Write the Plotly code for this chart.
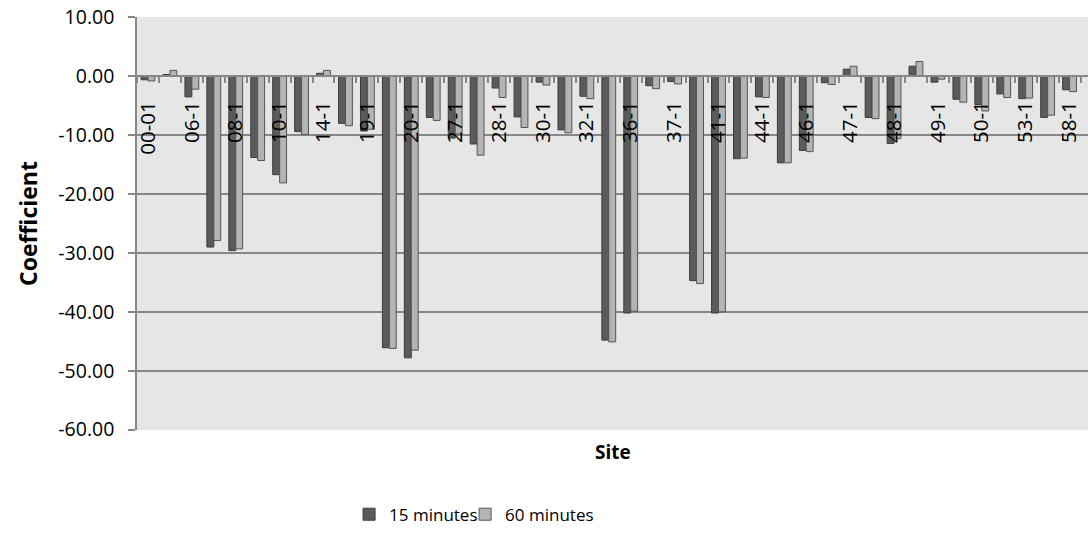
import plotly.graph_objects as go

site_labels = ["00-01", "06-1", "08-1", "10-1", "14-1", "19-1", "20-1", "27-1",
               "28-1", "30-1", "32-1", "36-1", "37-1", "41-1", "44-1", "46-1",
               "47-1", "48-1", "49-1", "50-1", "53-1", "58-1"]

min15 = [-0.6, 0.3, -3.5, -29.0, -29.6, -13.8, -16.7, -9.4, 0.5, -8.0,
         -9.3, -46.1, -47.8, -7.0, -10.5, -11.5, -2.0, -6.9, -1.0, -9.1,
         -3.4, -44.8, -40.2, -1.6, -0.9, -34.7, -40.2, -14.0, -3.5, -14.7,
         -12.6, -1.1, 1.2, -7.0, -11.4, 1.7, -1.0, -3.9, -4.8, -3.0,
         -3.8, -7.0, -2.3]

min60 = [-0.8, 1.0, -2.2, -27.9, -29.3, -14.3, -18.1, -9.9, 1.0, -8.4,
         -9.0, -46.2, -46.5, -7.5, -9.8, -13.4, -3.6, -8.7, -1.5, -9.6,
         -3.8, -45.1, -39.9, -2.1, -1.3, -35.2, -40.0, -13.9, -3.6, -14.7,
         -12.8, -1.4, 1.7, -7.2, -10.6, 2.5, -0.5, -4.4, -5.9, -3.6,
         -3.7, -6.6, -2.6]

series_names = ["15 minutes", "60 minutes"]
y_ticks = [10, 0, -10, -20, -30, -40, -50, -60]

n = len(min15)
xs = list(range(n))
FONT = "Open Sans"
GRID = "#878787"

fig = go.Figure()
fig.add_trace(go.Bar(x=xs, y=min15, name=series_names[0], legend="legend",
                     marker=dict(color="#5b5b5b", line=dict(color="#3c3c3c", width=1))))
fig.add_trace(go.Bar(x=xs, y=min60, name=series_names[1], legend="legend2",
                     marker=dict(color="#b4b4b4", line=dict(color="#555555", width=1))))

leg_common = dict(orientation="h", xanchor="left", y=-0.205, yanchor="middle",
                  font=dict(size=17), bgcolor="rgba(0,0,0,0)")

fig.update_layout(
    width=1088, height=537,
    margin=dict(l=137, r=0, t=17, b=107, autoexpand=False),
    paper_bgcolor="white", plot_bgcolor="#e6e6e6",
    barmode="group", bargap=0.37, bargroupgap=0,
    font=dict(family=FONT, size=17, color="black"),
    showlegend=True,
    legend=dict(x=0.223, **leg_common),
    legend2=dict(x=0.345, **leg_common),
)

fig.update_xaxes(
    range=[-0.5, n - 0.16], automargin=False,
    anchor="free", position=6 / 7,
    tickvals=list(range(0, n, 2)), ticktext=site_labels,
    tickangle=-90, ticks="", showgrid=False, zeroline=False,
    showline=True, linecolor=GRID, linewidth=2,
    ticklabelstandoff=16,
    minor=dict(tickvals=[i - 0.5 for i in range(n + 1)], ticks="outside",
               ticklen=6, tickcolor=GRID, tickwidth=1.5, showgrid=False),
    tickfont=dict(size=20.5),
)

fig.update_yaxes(
    range=[-60.06, 10.06], automargin=False,
    tickvals=y_ticks, ticktext=["%.2f" % v for v in y_ticks],
    showgrid=True, gridcolor=GRID, gridwidth=1.5, zeroline=False,
    showline=True, linecolor=GRID, linewidth=1.5,
    ticks="outside", ticklen=7, tickcolor=GRID, tickwidth=1.5,
    ticklabelstandoff=10, tickfont=dict(size=19.5), ticklabeloverflow="allow",
    title=dict(text="<b>Coefficient</b>", font=dict(size=23), standoff=14),
)

fig.add_annotation(text="<b>Site</b>", x=0.5, y=(430 - 452) / 413, xref="paper", yref="paper",
                   showarrow=False, font=dict(size=19), xanchor="center", yanchor="middle")

# remove the browser's default page margin so the figure sits at the window origin
fig.write_html("out.html", config={"displayModeBar": False},
               post_script="document.body.style.margin='0';document.body.style.overflow='hidden';")
